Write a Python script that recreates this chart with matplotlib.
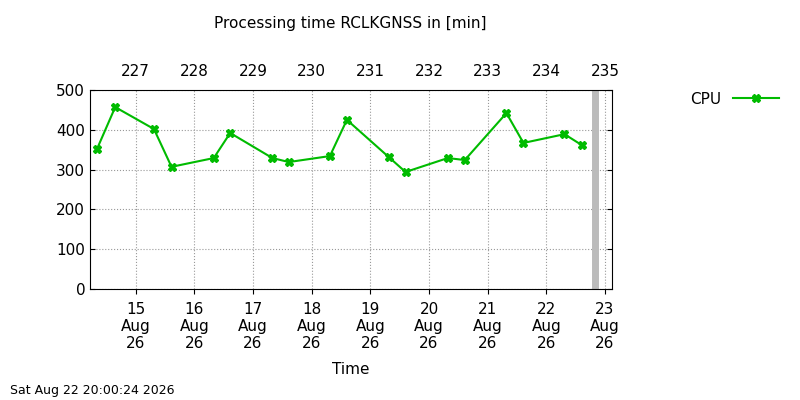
import matplotlib
matplotlib.use("Agg")
import matplotlib.pyplot as plt

# day of August (fractional) and processing time in minutes
days = [14.34, 14.65, 15.31, 15.61, 16.33, 16.61, 17.33, 17.61, 18.31, 18.60,
        19.31, 19.60, 20.32, 20.61, 21.32, 21.61, 22.31, 22.60]
cpu = [352, 457, 402, 307, 329, 392, 329, 319, 334, 425,
       332, 294, 329, 324, 442, 367, 389, 362]
now_day = 22.83
tick_days = [15, 16, 17, 18, 19, 20, 21, 22, 23]
tick_labels = [f"{d}\nAug\n26" for d in tick_days]
doy_labels = [str(d + 212) for d in tick_days]

fig = plt.figure(figsize=(8, 4), dpi=100)
ax = fig.add_axes([0.1125, 0.2775, 0.6525, 0.4975])
ax.plot(days, cpu, color="#00bb00", marker="X", markersize=6, lw=1.5, label="CPU")
ax.axvline(now_day, color="#bbbbbb", lw=5)
ax.set_xlim(14.22, 23.12)
ax.set_ylim(0, 500)
ax.set_yticks(range(0, 501, 100))
ax.set_xticks(tick_days)
ax.set_xticklabels(tick_labels, fontsize=11, linespacing=1.15)
ax.tick_params(axis="y", labelsize=11, right=True, direction="in")
ax.tick_params(axis="x", direction="out", top=False, pad=6)
ax.grid(True, color="#999999", linestyle=":", lw=0.8)
ax.set_xlabel("Time", fontsize=11, labelpad=8)

top = ax.twiny()
top.set_xlim(ax.get_xlim())
top.set_xticks(tick_days)
top.set_xticklabels(doy_labels, fontsize=11)
top.tick_params(length=0, pad=8)
for s in top.spines.values():
    s.set_visible(False)

fig.text(0.4375, 0.93, "Processing time RCLKGNSS in [min]", ha="center", fontsize=11)
fig.legend(loc="upper left", bbox_to_anchor=(0.845, 0.805), frameon=False,
           fontsize=11, markerfirst=False, handlelength=3)
fig.text(0.012, 0.015, "Sat Aug 22 20:00:24 2026", fontsize=9)
fig.savefig("out.png")
